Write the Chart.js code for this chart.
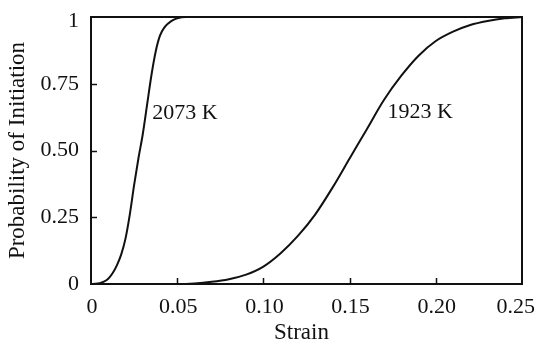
<!DOCTYPE html>
<html>
<head>
<meta charset="utf-8">
<script src="https://cdn.jsdelivr.net/npm/chart.js@4/dist/chart.umd.min.js"></script>
<style>
  html, body { margin: 0; padding: 0; background: #fff; }
  #wrap { width: 538px; height: 341px; }
</style>
</head>
<body>
<div id="wrap"><canvas id="probChart" width="538" height="341"></canvas></div>
<script>
// strain / probability
const strain2073 = [0, 0.0025, 0.005, 0.0075, 0.01, 0.0125, 0.015, 0.0175, 0.02, 0.0225, 0.025, 0.0275, 0.03, 0.0325, 0.035, 0.0375, 0.04, 0.0425, 0.045, 0.0475, 0.05, 0.055, 0.25];
const prob2073   = [0, 0.0005, 0.003, 0.009, 0.02, 0.04, 0.07, 0.11, 0.17, 0.26, 0.37, 0.47, 0.56, 0.67, 0.78, 0.87, 0.93, 0.96, 0.977, 0.988, 0.995, 1, 1];

const strain1923 = [0, 0.05, 0.06, 0.07, 0.08, 0.09, 0.10, 0.11, 0.12, 0.13, 0.14, 0.15, 0.16, 0.17, 0.18, 0.19, 0.20, 0.21, 0.22, 0.23, 0.24, 0.25];
const prob1923   = [0, 0, 0.002, 0.008, 0.018, 0.035, 0.065, 0.115, 0.18, 0.26, 0.36, 0.47, 0.58, 0.69, 0.78, 0.855, 0.91, 0.945, 0.97, 0.985, 0.995, 1];

const xTicks = [0, 0.05, 0.10, 0.15, 0.20, 0.25];
const xTickLabels = ['0', '0.05', '0.10', '0.15', '0.20', '0.25'];
const yTicks = [0, 0.25, 0.5, 0.75, 1];
const yTickLabels = ['0', '0.25', '0.50', '0.75', '1'];

const xTitle = 'Strain';
const yTitle = 'Probability of Initiation';

const curveLabels = ['2073 K', '1923 K'];
const curveLabelX = [0.0355, 0.172];
const curveLabelY = [0.64, 0.643];

const FONT = '"Liberation Serif", "Times New Roman", serif';
const TICK_SIZE = 22;
const TITLE_SIZE = 23;

function toPoints(xs, ys) {
  return xs.map((x, i) => ({ x: x, y: ys[i] }));
}

// frame, inward ticks, tick labels, titles and curve labels
const framePlugin = {
  id: 'frame',
  afterDraw(chart) {
    const ctx = chart.ctx;
    const a = chart.chartArea;
    const xs = chart.scales.x;
    const ys = chart.scales.y;
    const W = chart.width;
    ctx.save();
    ctx.strokeStyle = '#111';
    ctx.lineWidth = 2;
    ctx.strokeRect(a.left, a.top, a.right - a.left, a.bottom - a.top);

    ctx.lineWidth = 1.5;
    ctx.beginPath();
    xTicks.slice(1, -1).forEach(v => {
      const px = Math.round(xs.getPixelForValue(v)) + 0.5;
      ctx.moveTo(px, a.bottom);
      ctx.lineTo(px, a.bottom - 6);
    });
    yTicks.slice(1, -1).forEach(v => {
      const py = Math.round(ys.getPixelForValue(v)) + 0.5;
      ctx.moveTo(a.left, py);
      ctx.lineTo(a.left + 6, py);
    });
    ctx.stroke();

    ctx.fillStyle = '#111';
    ctx.font = TICK_SIZE + 'px ' + FONT;

    // x tick labels, the last one kept inside the canvas
    ctx.textBaseline = 'alphabetic';
    ctx.textAlign = 'left';
    xTicks.forEach((v, i) => {
      const t = xTickLabels[i];
      const w = ctx.measureText(t).width;
      let left = xs.getPixelForValue(v) - w / 2 + 1;
      left = Math.min(left, W - 3 - w);
      ctx.fillText(t, left, a.bottom + 29);
    });

    // y tick labels, the top one kept inside the canvas
    ctx.textAlign = 'right';
    ctx.textBaseline = 'middle';
    yTicks.forEach((v, i) => {
      const py = Math.max(ys.getPixelForValue(v), 21);
      ctx.fillText(yTickLabels[i], a.left - 12, py);
    });

    // curve labels
    ctx.textAlign = 'left';
    curveLabels.forEach((t, i) => {
      ctx.fillText(t, xs.getPixelForValue(curveLabelX[i]), ys.getPixelForValue(curveLabelY[i]));
    });

    // axis titles
    ctx.font = TITLE_SIZE + 'px ' + FONT;
    ctx.textAlign = 'center';
    ctx.textBaseline = 'alphabetic';
    ctx.fillText(xTitle, (a.left + a.right) / 2 - 5, chart.height - 2);

    ctx.translate(18, (a.top + a.bottom) / 2);
    ctx.rotate(-Math.PI / 2);
    ctx.textBaseline = 'middle';
    ctx.fillText(yTitle, 0, 0);
    ctx.restore();
  }
};

new Chart(document.getElementById('probChart'), {
  type: 'scatter',
  data: {
    datasets: [
      {
        label: '2073 K',
        data: toPoints(strain2073, prob2073),
        showLine: true,
        borderColor: '#111',
        borderWidth: 2,
        pointRadius: 0,
        cubicInterpolationMode: 'monotone'
      },
      {
        label: '1923 K',
        data: toPoints(strain1923, prob1923),
        showLine: true,
        borderColor: '#111',
        borderWidth: 2,
        pointRadius: 0,
        cubicInterpolationMode: 'monotone'
      }
    ]
  },
  options: {
    responsive: false,
    animation: false,
    devicePixelRatio: 1,
    layout: { padding: { top: 17, right: 16, left: 0, bottom: 0 } },
    plugins: {
      legend: { display: false },
      tooltip: { enabled: false }
    },
    scales: {
      x: {
        type: 'linear',
        min: 0,
        max: 0.25,
        afterBuildTicks(scale) { scale.ticks = xTicks.map(v => ({ value: v })); },
        afterFit(scale) { scale.height = 57; scale.paddingLeft = 0; scale.paddingRight = 0; },
        grid: { display: false },
        border: { display: false },
        ticks: { display: false }
      },
      y: {
        type: 'linear',
        min: 0,
        max: 1,
        afterBuildTicks(scale) { scale.ticks = yTicks.map(v => ({ value: v })); },
        afterFit(scale) { scale.width = 91; scale.paddingTop = 0; scale.paddingBottom = 0; },
        grid: { display: false },
        border: { display: false },
        ticks: { display: false }
      }
    }
  },
  plugins: [framePlugin]
});
</script>
</body>
</html>
